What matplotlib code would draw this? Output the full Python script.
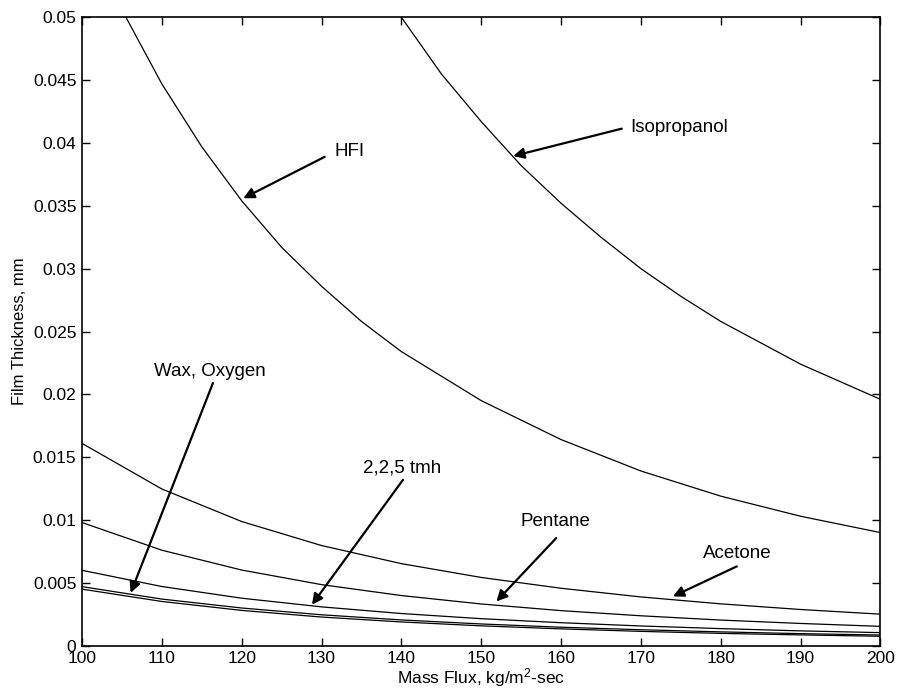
import matplotlib
matplotlib.use("Agg")
import matplotlib.pyplot as plt
from matplotlib.ticker import FuncFormatter, MultipleLocator

plt.rcParams['font.family'] = ['Liberation Sans', 'DejaVu Sans']
plt.rcParams['mathtext.default'] = 'regular'

# values, mass flux in kg/m2-sec
x_fine = [100, 105, 110, 115, 120, 125, 130, 135, 140, 150, 160, 170, 180, 190, 200]
hfi = [0.0577, 0.0506, 0.0447, 0.0397, 0.0354, 0.0317, 0.0286, 0.0258, 0.0234,
       0.0195, 0.0164, 0.0139, 0.0119, 0.0103, 0.0090]

x_iso = [135, 140, 145, 150, 155, 160, 165, 170, 175, 180, 185, 190, 195, 200]
isopropanol = [0.0549, 0.0500, 0.0455, 0.0417, 0.0382, 0.0352, 0.0325, 0.0300,
               0.0278, 0.0258, 0.0241, 0.0224, 0.0210, 0.0196]

x_low = [100, 110, 120, 130, 140, 150, 160, 170, 180, 190, 200]
acetone = [0.0161, 0.01247, 0.00988, 0.00797, 0.00653, 0.00543, 0.00457, 0.00388, 0.00333, 0.00288, 0.00251]
pentane = [0.0098, 0.00760, 0.00602, 0.00486, 0.00399, 0.00332, 0.00279, 0.00238, 0.00204, 0.00177, 0.00154]
tmh = [0.0060, 0.00471, 0.00378, 0.00309, 0.00256, 0.00215, 0.00183, 0.00157, 0.00136, 0.00118, 0.00104]
wax = [0.0047, 0.00371, 0.00300, 0.00246, 0.00205, 0.00173, 0.00147, 0.00127, 0.00110, 0.00096, 0.00085]
oxygen = [0.0045, 0.00352, 0.00281, 0.00228, 0.00189, 0.00158, 0.00134, 0.00114, 0.00098, 0.00086, 0.00075]

# label text, arrow start, arrow tip, text position
labels = ['HFI', 'Isopropanol', 'Wax, Oxygen', '2,2,5 tmh', 'Pentane', 'Acetone']
start_xy = [(130.4, 0.0389), (167.6, 0.04114), (116.4, 0.0209), (140.2, 0.0132),
            (159.4, 0.00857), (182.0, 0.00631)]
tip_xy = [(120.2, 0.0356), (154.0, 0.03896), (106.1, 0.0042), (128.8, 0.00326),
          (151.9, 0.00352), (174.0, 0.00392)]
text_xy = [(131.6, 0.0393), (168.6, 0.0412), (116.0, 0.0218), (140.1, 0.01414),
           (159.3, 0.00989), (182.1, 0.00735)]
text_ha = ['left', 'left', 'center', 'center', 'center', 'center']

fig = plt.figure(figsize=(8.98, 6.92), dpi=100)
ax = fig.add_axes([0.0913, 0.0669, 0.8892, 0.9081])

lw = 0.9
ax.plot(x_fine, hfi, 'k-', lw=lw)
ax.plot(x_iso, isopropanol, 'k-', lw=lw)
for s in [acetone, pentane, tmh, wax, oxygen]:
    ax.plot(x_low, s, 'k-', lw=lw)

for lab, start, tip, txy, ha in zip(labels, start_xy, tip_xy, text_xy, text_ha):
    ax.annotate('', xy=tip, xytext=start,
                arrowprops=dict(arrowstyle='-|>', color='k', lw=1.6,
                                mutation_scale=16, shrinkA=0, shrinkB=0))
    ax.text(txy[0], txy[1], lab, ha=ha, va='center', fontsize=13.5)

ax.set_xlim(100, 200)
ax.set_ylim(0, 0.05)
ax.xaxis.set_major_locator(MultipleLocator(10))
ax.yaxis.set_major_locator(MultipleLocator(0.005))
ax.yaxis.set_major_formatter(FuncFormatter(lambda v, p: '%g' % round(v, 4)))
ax.tick_params(direction='in', top=True, right=True, length=6, width=1,
               labelsize=12.5, pad=4)
for sp in ax.spines.values():
    sp.set_linewidth(1.2)

ax.set_xlabel('Mass Flux, kg/m$^{2}$-sec', fontsize=12.5, labelpad=0)
ax.set_ylabel('Film Thickness, mm', fontsize=12, labelpad=4)

fig.savefig('out.png', dpi=100)
